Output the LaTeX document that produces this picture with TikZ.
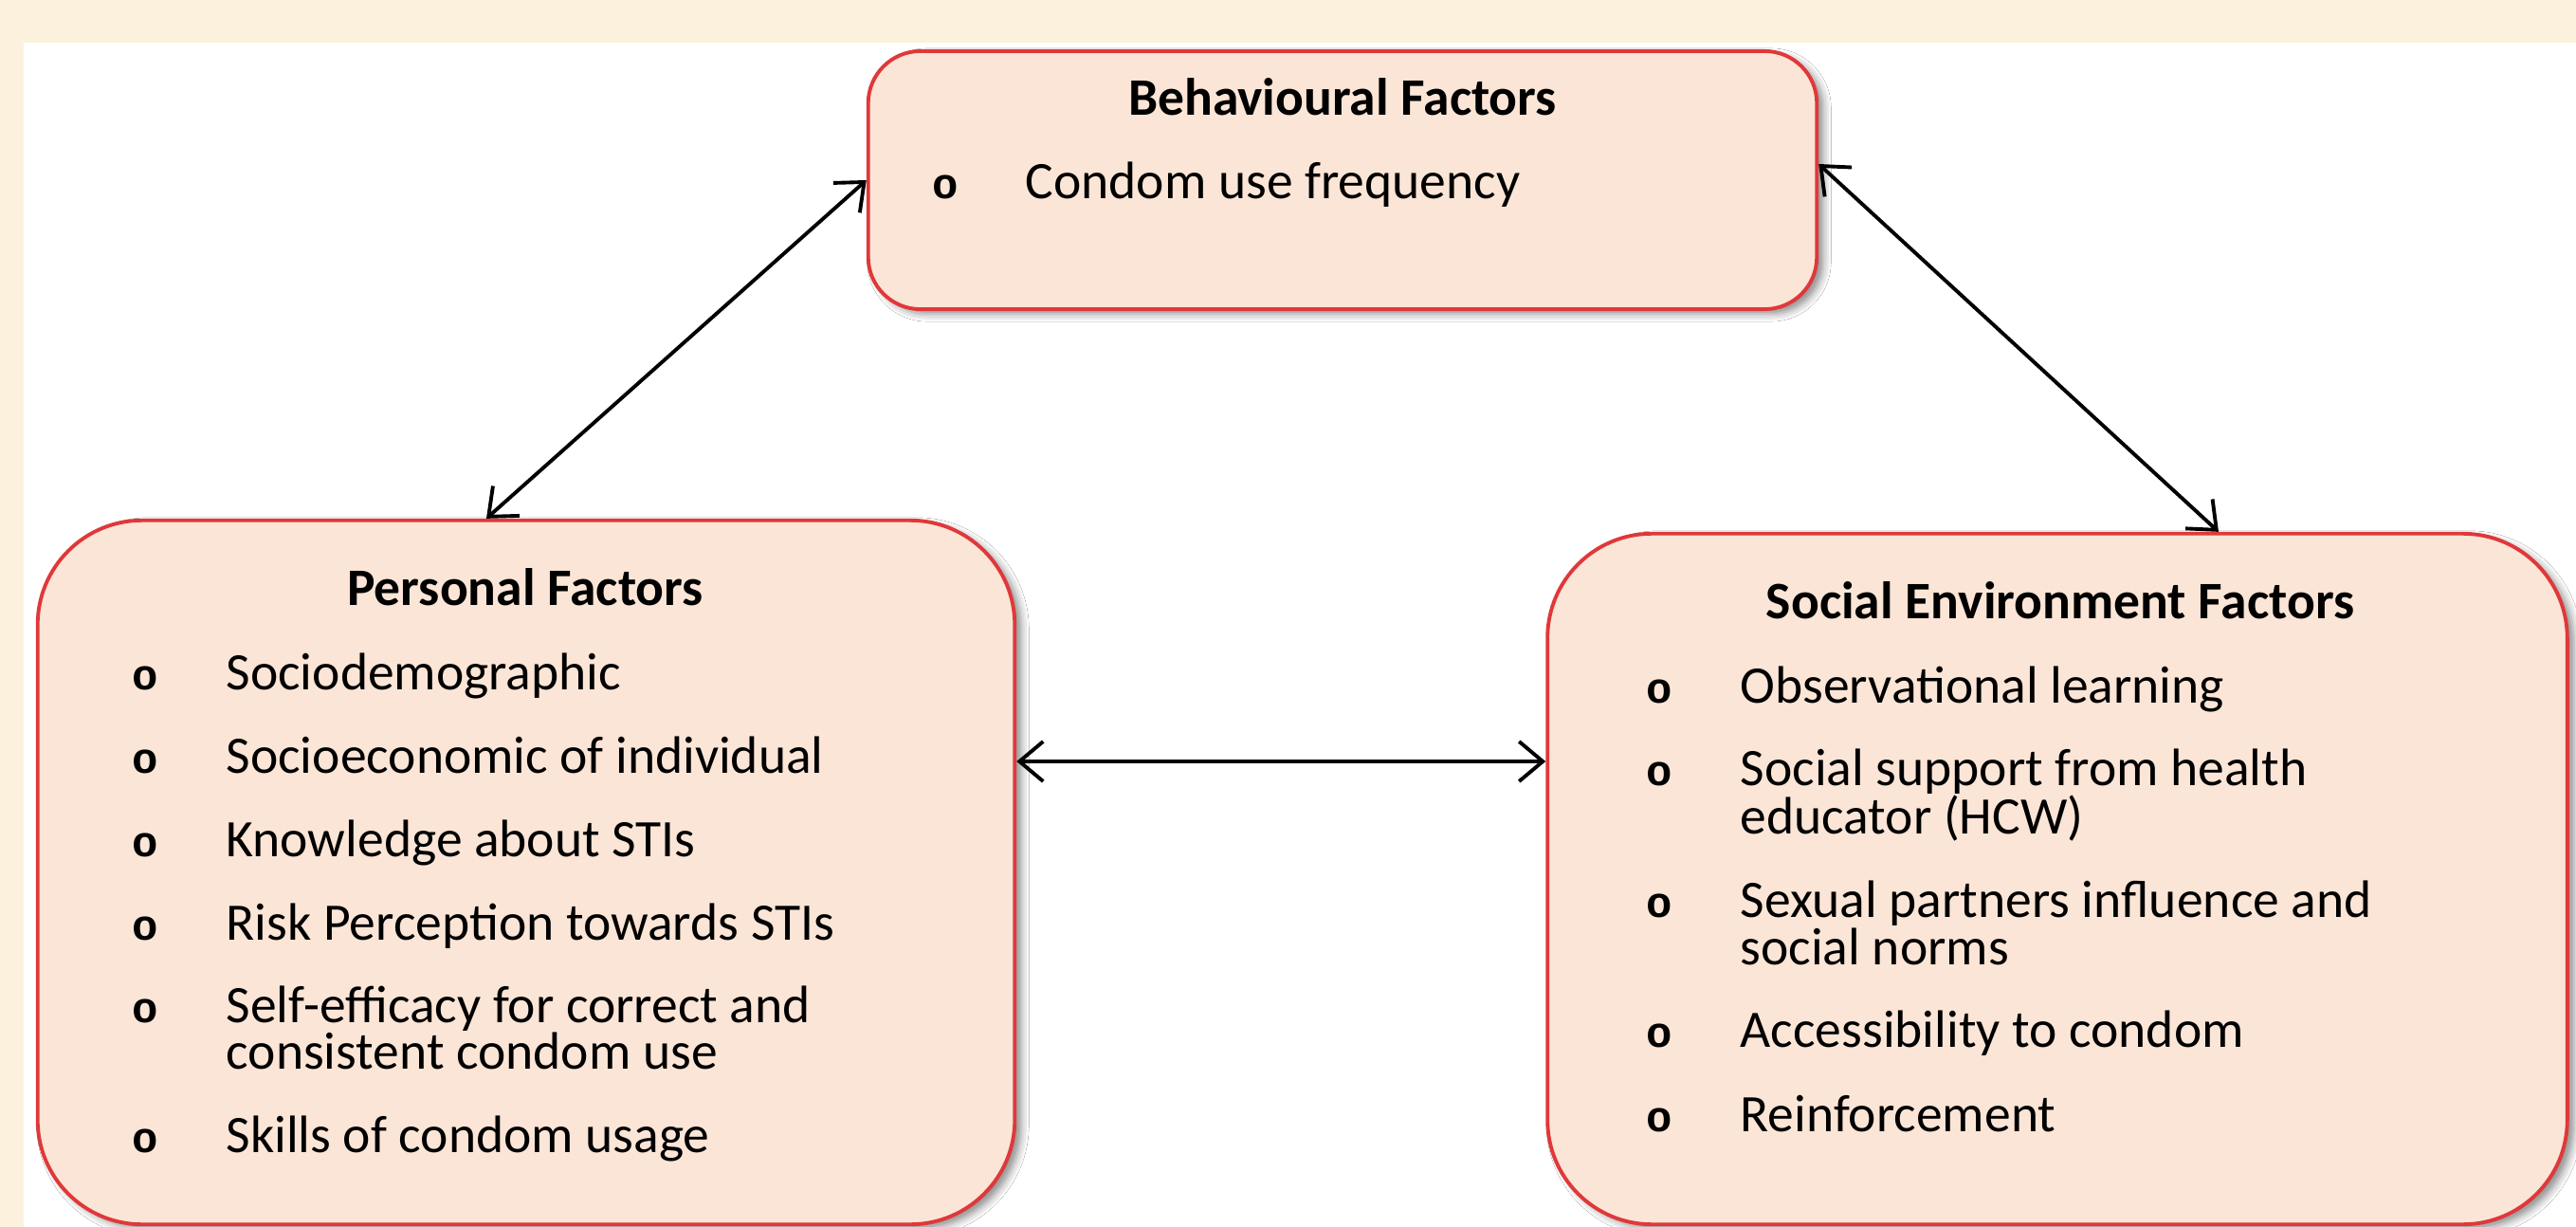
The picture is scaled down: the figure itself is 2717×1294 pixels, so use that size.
\documentclass[tikz,border=0pt]{standalone}
\usepackage{fontspec}
\setmainfont{Carlito}
\newfontfamily\bulletfont{Liberation Mono}
\usetikzlibrary{arrows.meta,calc,shadows.blur}
\definecolor{cream}{HTML}{FCF1DC}
\definecolor{boxfill}{HTML}{FBE5D6}
\definecolor{boxline}{HTML}{E0383A}
\begin{document}
\begin{tikzpicture}[x=0.01cm,y=-0.01cm,
  factor/.style={rectangle, draw=boxline, line width=1.1pt, fill=boxfill, inner sep=0pt,
    blur shadow={shadow xshift=0.07cm, shadow yshift=-0.05cm, shadow blur radius=0.08cm, shadow opacity=45}},
  txt/.style={font=\fontsize{15.8}{18}\selectfont, inner sep=0pt, anchor=mid west},
  ttl/.style={font=\fontsize{15.8}{18}\selectfont\bfseries, inner sep=0pt, anchor=mid},
  bul/.style={font=\fontsize{13}{16}\selectfont\bulletfont\bfseries, inner sep=0pt, anchor=mid},
  conn/.style={line width=1.1pt, black, {Straight Barb[length=0.25cm,width=0.42cm]}-{Straight Barb[length=0.25cm,width=0.42cm]}}
]
\useasboundingbox (0,0) rectangle (2717,1294);
\fill[cream] (0,0) rectangle (2717,1294);
\fill[white] (25,45) rectangle (2717,1294);

% boxes
\node[factor, rounded corners=0.55cm, minimum width=10cm, minimum height=2.72cm] (beh) at (1416,190) {};
\node[factor, rounded corners=1.1cm, minimum width=10.3cm, minimum height=7.42cm] (per) at (555,920) {};
\node[factor, rounded corners=1.1cm, minimum width=10.75cm, minimum height=7.28cm] (soc) at (2170,927) {};

% Behavioural
\node[ttl] (behT) at (1416,113) {Behavioural Factors};
\node[bul] (behB1) at (997,201) {o};
\node[txt] (behI1) at (1081,201) {Condom use frequency};

% Personal
\node[ttl] (perT) at (554,630) {Personal Factors};
\node[bul] (perB1) at (153,719) {o};
\node[txt] (perI1) at (238,719) {Sociodemographic};
\node[bul] (perB2) at (153,807) {o};
\node[txt] (perI2) at (238,807) {Socioeconomic of individual};
\node[bul] (perB3) at (153,895) {o};
\node[txt] (perI3) at (238,895) {Knowledge about STIs};
\node[bul] (perB4) at (153,983) {o};
\node[txt] (perI4) at (238,983) {Risk Perception towards STIs};
\node[bul] (perB5) at (153,1070) {o};
\node[txt] (perI5a) at (238,1070) {Self-efficacy for correct and};
\node[txt] (perI5b) at (238,1119) {consistent condom use};
\node[bul] (perB6) at (153,1207) {o};
\node[txt] (perI6) at (238,1207) {Skills of condom usage};

% Social
\node[ttl] (socT) at (2173,644) {Social Environment Factors};
\node[bul] (socB1) at (1750,733) {o};
\node[txt] (socI1) at (1835,733) {Observational learning};
\node[bul] (socB2) at (1750,820) {o};
\node[txt] (socI2a) at (1835,820) {Social support from health};
\node[txt] (socI2b) at (1835,871) {educator (HCW)};
\node[bul] (socB3) at (1750,959) {o};
\node[txt] (socI3a) at (1835,959) {Sexual partners influence and};
\node[txt] (socI3b) at (1835,1009) {social norms};
\node[bul] (socB4) at (1750,1096) {o};
\node[txt] (socI4) at (1835,1096) {Accessibility to condom};
\node[bul] (socB5) at (1750,1185) {o};
\node[txt] (socI5) at (1835,1185) {Reinforcement};

% connectors
\coordinate (perTop) at ($(per.north)+(-42,0)$);
\coordinate (socTop) at ($(soc.north)+(170,0)$);
\coordinate (behR) at ($(beh.east)+(0,-17)$);
\coordinate (perR) at ($(per.east)+(0,-117)$);
\draw[conn] (beh.west) -- (perTop);
\draw[conn] (behR) -- (socTop);
\draw[conn] (perR) -- (perR -| soc.west);
\end{tikzpicture}
\end{document}
